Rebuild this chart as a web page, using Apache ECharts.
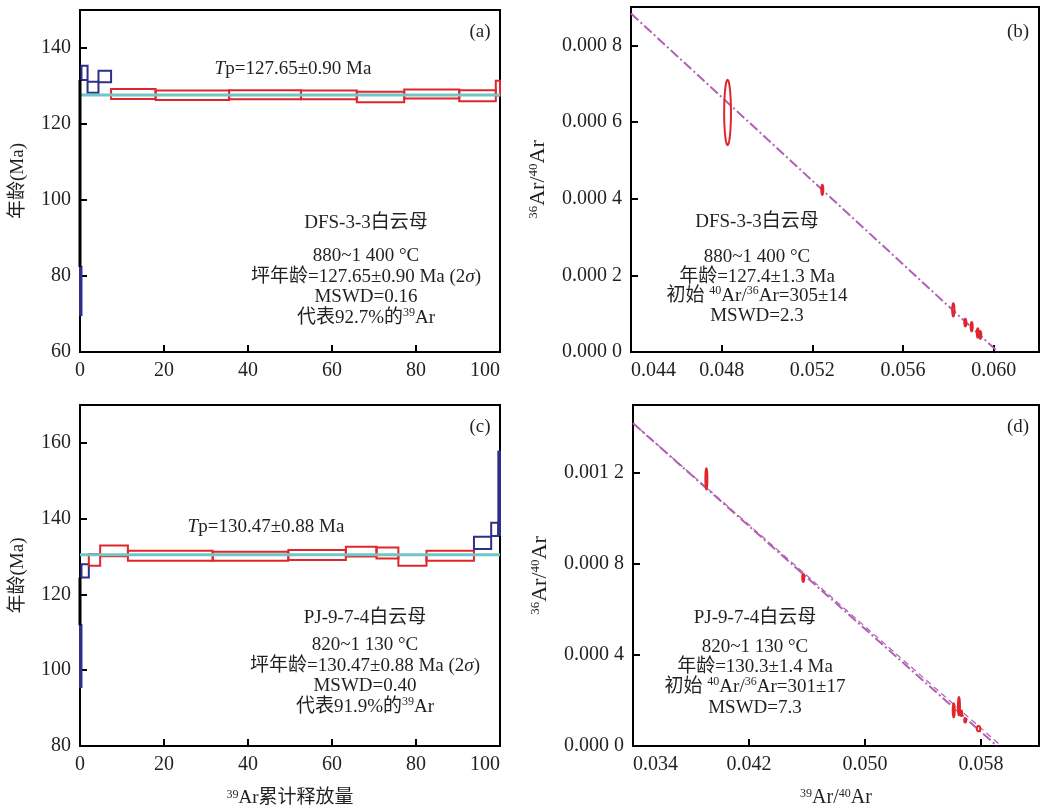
<!DOCTYPE html>
<html><head><meta charset="utf-8">
<script src="https://cdn.jsdelivr.net/npm/echarts@6/dist/echarts.min.js"></script>
<style>html,body{margin:0;padding:0;background:#fff}#c{width:1044px;height:811px}</style>
</head><body><div id="c"></div>
<script>
// ---------- DATA ----------
// Age spectra: [cum39Ar start %, cum39Ar end %, age low (Ma), age high (Ma)]
const spectrumA_excluded = [[0,0.35,69.7,82.4],[0.35,1.8,131.6,135.3],[1.8,4.4,128.2,131.1],[4.4,7.4,131.0,134.0]];
const spectrumA_plateau  = [[7.4,18.0,126.6,129.2],[18.0,35.5,126.3,128.8],[35.5,52.6,126.5,128.9],[52.6,65.9,126.5,128.8],[65.9,77.2,125.7,128.5],[77.2,90.3,126.7,129.1],[90.3,99.0,126.0,128.9],[99.0,100,127.5,131.4]];
const connectorA = [[0,82.4],[0,131.6]];
const plateauA = 127.65;

const spectrumC_excluded = [[0,0.35,95.6,111.9],[0.35,2.1,124.5,128.0],[93.8,97.9,132.0,135.2],[97.9,99.6,135.4,138.9],[99.6,100,135.7,157.7]];
const spectrumC_plateau  = [[2.1,4.8,127.6,130.7],[4.8,11.4,130.1,132.9],[11.4,31.6,128.9,131.5],[31.6,49.6,128.9,131.3],[49.6,63.3,129.1,131.7],[63.3,70.6,130.0,132.6],[70.6,75.8,129.5,132.4],[75.8,82.5,127.6,130.4],[82.5,93.8,128.9,131.5]];
const connectorC = [[0,111.9],[0,124.5]];
const plateauC = 130.47;

// Inverse isochrons: [39Ar/40Ar, 36Ar/40Ar, x half-width, y half-height]
const isoB = [[0.04826,0.000625,0.00015,0.000085],[0.05244,0.000423,0.00004,0.000013],[0.05822,0.000110,0.00005,0.000017],[0.05875,0.0000766,0.00003,0.00001],[0.05903,0.000066,0.00003,0.000012],[0.0593,0.0000496,0.00003,0.000012],[0.05941,0.0000444,0.00003,0.00001]];
const isoLineB = [[0.044,0.000883],[0.0602,0]];
const isoD = [[0.03906,0.001175,0.00004,0.000046],[0.04574,0.00074,0.00004,0.000018],[0.05612,0.000157,0.00004,0.00003],[0.05648,0.000175,0.00004,0.00004],[0.05664,0.000144,0.00003,0.000012],[0.05691,0.000113,0.00003,0.00001],[0.05783,0.0000765,0.00012,0.000012]];
const isoLineD1 = [[0.034,0.00142],[0.0591,0]];
const isoLineD2 = [[0.034,0.00142],[0.0594,0]];

// Axis ranges / ticks
const stepX = {min:0,max:100,interval:20};
const stepYA = {min:60,max:150,interval:20};
const stepYC = {min:80,max:170,interval:20};
const isoXB = {min:0.044,max:0.062,interval:0.004};
const isoYB = {min:0,max:0.0009,interval:0.0002};
const isoXD = {min:0.034,max:0.062,interval:0.008};
const isoYD = {min:0,max:0.0015,interval:0.0004};

// ---------- STYLE ----------
const FF = "'Liberation Serif','Times New Roman','Noto Sans CJK SC',serif";
const INK = '#231f20';
const RED = '#e0262b';
const BLUE = '#2e2f86';
const CYAN = '#72c6c6';
const PURPLE = '#b160b3';

function onTick(v, r){ const k=(v-r.min)/r.interval; return Math.abs(k - Math.round(k)) < 1e-6; }
function ratioLabel(r){ return v => { if(!onTick(v,r)) return ''; const s=v.toFixed(4); return s.slice(0,5)+' '+s.slice(5); }; }
function intLabel(r){ return v => onTick(v,r) ? String(Math.round(v)) : ''; }
function dec3Label(r){ return v => onTick(v,r) ? v.toFixed(3) : ''; }

const axisCommon = {
  axisLine:{show:true,onZero:false,lineStyle:{color:'#000',width:2}},
  axisTick:{show:true,inside:true,length:7,lineStyle:{color:'#000',width:2}},
  splitLine:{show:false},
  axisLabel:{color:INK,fontFamily:FF,fontSize:20,margin:9}
};
function ax(gi, r, fmt, extra){
  const o = JSON.parse(JSON.stringify(axisCommon));
  Object.assign(o, {type:'value', gridIndex:gi, min:r.min, max:r.max, interval:r.interval}, extra||{});
  o.axisLabel = Object.assign({}, axisCommon.axisLabel, {formatter:fmt}, (extra&&extra.axisLabel)||{});
  return o;
}
const supRich = {
  sup:{fontSize:12,fontFamily:FF,verticalAlign:'top',lineHeight:12,color:INK},
  i:{fontSize:19,fontFamily:FF,fontStyle:'italic',color:INK}
};

function boxSeries(xi, data, color){
  return {type:'custom', xAxisIndex:xi, yAxisIndex:xi, data:data, encode:{x:[0,1],y:[2,3]}, silent:true,
    renderItem:(p,api)=>{
      const a = api.coord([api.value(0), api.value(3)]);
      const b = api.coord([api.value(1), api.value(2)]);
      return {type:'rect', shape:{x:a[0],y:a[1],width:b[0]-a[0],height:b[1]-a[1]},
        style:{fill:'none',stroke:color,lineWidth:2}};
    }};
}
function ellipseSeries(xi, data){
  return {type:'custom', xAxisIndex:xi, yAxisIndex:xi, data:data, encode:{x:0,y:1}, silent:true, z:5,
    renderItem:(p,api)=>{
      const c = api.coord([api.value(0), api.value(1)]);
      const rx = Math.max(1, api.size([api.value(2),0])[0]);
      const ry = Math.max(1, api.size([0,api.value(3)])[1]);
      const pts = [];
      for(let k=0;k<48;k++){ const t=k/48*Math.PI*2; pts.push([c[0]+rx*Math.cos(t), c[1]+ry*Math.sin(t)]); }
      return {type:'polygon', shape:{points:pts}, style:{fill:'none',stroke:RED,lineWidth:2}};
    }};
}
function lineSeries(xi, data, color, width, type){
  return {type:'line', xAxisIndex:xi, yAxisIndex:xi, data:data, symbol:'none', silent:true,
    lineStyle:{color:color,width:width,type:type||'solid'}};
}

function T(x,y,text,size){
  return {type:'text', x:x, y:y, silent:true, style:{text:text, align:'center', verticalAlign:'middle',
    fontFamily:FF, fontSize:size||19, lineHeight:22, fill:INK, rich:supRich}};
}

const graphics = [
  T(480,32,'(a)'), T(293,69,'{i|T}p=127.65±0.90 Ma'),
  T(366,223,'DFS-3-3白云母'), T(366,256,'880~1 400 °C'), T(366,277,'坪年龄=127.65±0.90 Ma (2{i|σ})'),
  T(366,297,'MSWD=0.16'), T(366,318,'代表92.7%的{sup|39}Ar'),
  T(1018,32,'(b)'),
  T(757,222,'DFS-3-3白云母'), T(757,257,'880~1 400 °C'), T(757,277,'年龄=127.4±1.3 Ma'),
  T(757,296,'初始 {sup|40}Ar/{sup|36}Ar=305±14'), T(757,316,'MSWD=2.3'),
  T(480,427,'(c)'), T(266,527,'{i|T}p=130.47±0.88 Ma'),
  T(365,618,'PJ-9-7-4白云母'), T(365,645,'820~1 130 °C'), T(365,666,'坪年龄=130.47±0.88 Ma (2{i|σ})'),
  T(365,686,'MSWD=0.40'), T(365,707,'代表91.9%的{sup|39}Ar'),
  T(1018,427,'(d)'),
  T(755,618,'PJ-9-7-4白云母'), T(755,647,'820~1 130 °C'), T(755,667,'年龄=130.3±1.4 Ma'),
  T(755,687,'初始 {sup|40}Ar/{sup|36}Ar=301±17'), T(755,708,'MSWD=7.3')
];

const nameStyleAge = {fontFamily:FF,fontSize:19,color:INK};
const nameStyleRatio = {fontFamily:FF,fontSize:22,color:INK,
  rich:{sup:{fontSize:13,fontFamily:FF,verticalAlign:'top',lineHeight:13,color:INK}}};

const option = {
  animation:false,
  backgroundColor:'#fff',
  grid:[
    {left:80,top:10,width:420,height:342,show:true,borderColor:'#000',borderWidth:2},
    {left:631,top:7,width:408,height:345,show:true,borderColor:'#000',borderWidth:2},
    {left:80,top:405,width:420,height:341,show:true,borderColor:'#000',borderWidth:2},
    {left:633,top:405,width:406,height:341,show:true,borderColor:'#000',borderWidth:2}
  ],
  xAxis:[
    ax(0, stepX, intLabel(stepX), {axisLabel:{alignMaxLabel:'right'}}),
    ax(1, isoXB, dec3Label(isoXB), {axisLabel:{alignMinLabel:'left'}}),
    ax(2, stepX, intLabel(stepX), {axisLabel:{alignMaxLabel:'right'}, name:'{sup|39}Ar累计释放量', nameLocation:'middle', nameGap:43,
      nameTextStyle:{fontFamily:FF,fontSize:19,color:INK,rich:{sup:{fontSize:12,fontFamily:FF,verticalAlign:'top',lineHeight:12,color:INK}}}}),
    ax(3, isoXD, dec3Label(isoXD), {axisLabel:{alignMinLabel:'left'}, name:'{sup|39}Ar/{sup|40}Ar', nameLocation:'middle', nameGap:42,
      nameTextStyle:{fontFamily:FF,fontSize:20,color:INK,rich:{sup:{fontSize:12,fontFamily:FF,verticalAlign:'top',lineHeight:12,color:INK}}}})
  ],
  yAxis:[
    ax(0, stepYA, intLabel(stepYA), {name:'年龄(Ma)', nameLocation:'middle', nameGap:52, nameRotate:90, nameTextStyle:nameStyleAge}),
    ax(1, isoYB, ratioLabel(isoYB), {name:'{sup|36}Ar/{sup|40}Ar', nameLocation:'middle', nameGap:82, nameRotate:90, nameTextStyle:nameStyleRatio}),
    ax(2, stepYC, intLabel(stepYC), {name:'年龄(Ma)', nameLocation:'middle', nameGap:52, nameRotate:90, nameTextStyle:nameStyleAge}),
    ax(3, isoYD, ratioLabel(isoYD), {name:'{sup|36}Ar/{sup|40}Ar', nameLocation:'middle', nameGap:82, nameRotate:90, nameTextStyle:nameStyleRatio})
  ],
  series:[
    lineSeries(0, [[stepX.min,plateauA],[stepX.max,plateauA]], CYAN, 3),
    boxSeries(0, spectrumA_excluded, BLUE),
    boxSeries(0, spectrumA_plateau, RED),
    lineSeries(0, connectorA, '#000', 3),
    lineSeries(2, [[stepX.min,plateauC],[stepX.max,plateauC]], CYAN, 3),
    boxSeries(2, spectrumC_excluded, BLUE),
    boxSeries(2, spectrumC_plateau, RED),
    lineSeries(2, connectorC, '#000', 3),
    lineSeries(1, isoLineB, PURPLE, 2, [10,3,2,3]),
    ellipseSeries(1, isoB),
    lineSeries(3, isoLineD1, PURPLE, 2, [10,3,2,3]),
    lineSeries(3, isoLineD2, PURPLE, 1.2, [6,4]),
    ellipseSeries(3, isoD)
  ],
  graphic:graphics
};
const chart = echarts.init(document.getElementById('c'), null, {renderer:'canvas'});
chart.setOption(option);
</script></body></html>
